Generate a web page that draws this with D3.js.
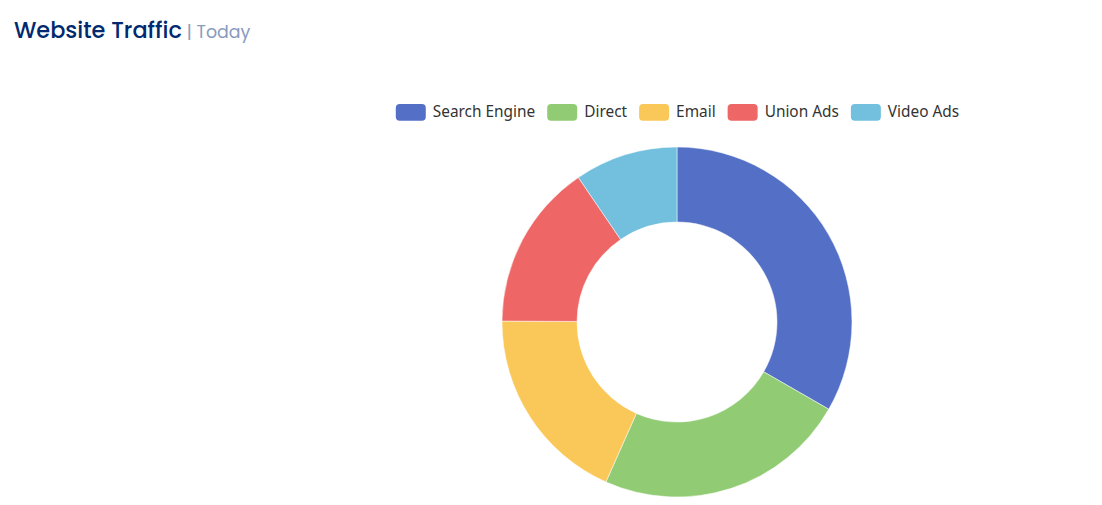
<!DOCTYPE html>
<html>
<head>
<meta charset="utf-8">
<script src="https://cdn.jsdelivr.net/npm/d3@7"></script>
<style>
  html, body { margin: 0; padding: 0; background: #fff; }
  svg { display: block; }
</style>
</head>
<body>
<svg id="chart" width="1102" height="505"></svg>
<script>
const categories = ["Search Engine", "Direct", "Email", "Union Ads", "Video Ads"];
const values = [1048, 735, 580, 484, 300];
const colors = ["#5470c6", "#91cc75", "#fac858", "#ee6666", "#73c0de"];
const titleText = "Website Traffic";
const subtitleText = "| Today";

const svg = d3.select("#chart");

// Title
const t1 = svg.append("text")
  .attr("x", 14).attr("y", 38)
  .attr("font-family", "Poppins, 'Open Sans', sans-serif")
  .attr("font-size", 22.4).attr("font-weight", 500)
  .attr("fill", "#012970")
  .text(titleText);
const tEnd = 14 + t1.node().getComputedTextLength();
svg.append("text")
  .attr("x", tEnd + 5).attr("y", 38)
  .attr("font-family", "Poppins, 'Open Sans', sans-serif")
  .attr("font-size", 17.4).attr("font-weight", 400)
  .attr("fill", "#899bbd")
  .text(subtitleText);

// Pie
const cx = 677, cy = 322;
const outerR = 175, innerR = 100;
const pie = d3.pie().sort(null).value(d => d.value);
const arc = d3.arc().innerRadius(innerR).outerRadius(outerR);
const data = categories.map((c, i) => ({ name: c, value: values[i] }));
const color = d3.scaleOrdinal().domain(categories).range(colors);

svg.append("g").attr("transform", `translate(${cx},${cy})`)
  .selectAll("path").data(pie(data)).join("path")
  .attr("d", arc)
  .attr("fill", d => color(d.data.name))
  .attr("stroke", "#fff").attr("stroke-width", 0.5);

// Legend
const iconW = 30, iconH = 16.8, iconGap = 7, itemGap = 12;
const legend = svg.append("g");
const items = legend.selectAll("g").data(categories).join("g");
items.append("rect")
  .attr("width", iconW).attr("height", iconH)
  .attr("rx", 4).attr("ry", 4)
  .attr("fill", d => color(d));
items.append("text")
  .attr("x", iconW + iconGap).attr("y", iconH / 2)
  .attr("dy", "0.3em")
  .attr("font-family", "'Noto Sans', 'Open Sans', sans-serif")
  .attr("font-size", 15.4)
  .attr("fill", "#333")
  .text(d => d);
let xPos = 0;
const positions = [];
items.each(function () {
  const tw = d3.select(this).select("text").node().getComputedTextLength();
  positions.push(xPos);
  xPos += iconW + iconGap + tw + itemGap;
});
const totalW = xPos - itemGap;
const startX = 677.5 - totalW / 2;
items.attr("transform", (d, i) => `translate(${startX + positions[i]},${104})`);
</script>
</body>
</html>
